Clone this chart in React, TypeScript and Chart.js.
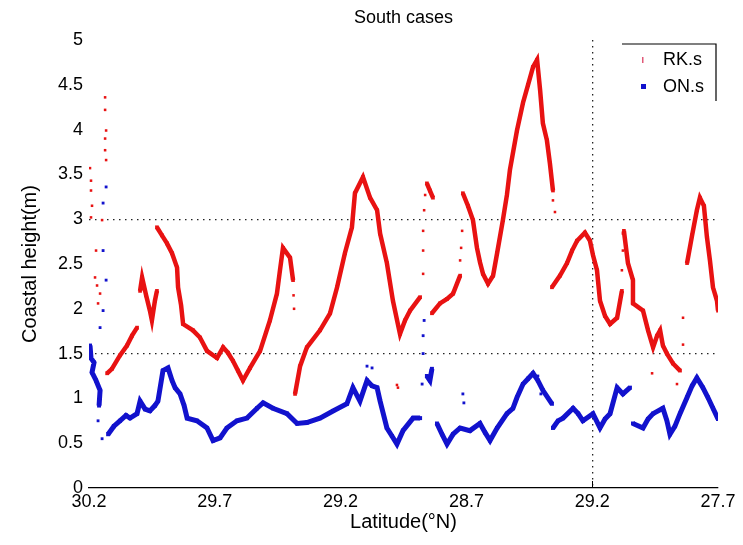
import React, { useEffect, useRef } from 'react';
import { Chart, registerables } from 'chart.js';
Chart.register(...registerables);

const titleText = 'South cases';
const xTitle = 'Latitude(°N)';
const yTitle = 'Coastal height(m)';
const seriesNames = ['RK.s', 'ON.s'];

const xTickValues = [30.2, 29.7, 29.2, 28.7, 28.2, 27.7];
const xTickLabels = ['30.2', '29.7', '29.2', '28.7', '29.2', '27.7'];
const yTickValues = [0, 0.5, 1, 1.5, 2, 2.5, 3, 3.5, 4, 4.5, 5];
const yTickLabels = ['0', '0.5', '1', '1.5', '2', '2.5', '3', '3.5', '4', '4.5', '5'];
const yGridValues = [3, 1.5];
const xGridValues = [28.2];

// RK.s dense tracks (null = break)
const rkDenseLat = [
  30.128, 30.109, 30.077, 30.049, 30.029, 30.009, null,
  29.997, 29.989, 29.973, 29.958, 29.950, 29.938, 29.930, null,
  29.930, 29.910, 29.890, 29.870, 29.850, 29.846, 29.834, 29.826, 29.787, 29.759, 29.731, 29.691, 29.667, 29.648, 29.628, 29.608, 29.588, 29.560, 29.520, 29.481, 29.453, 29.441, 29.429, 29.401, 29.389, null,
  29.381, 29.361, 29.334, 29.282, 29.242, 29.214, 29.183, 29.155, 29.143, 29.111, 29.083, 29.055, 29.043, 29.016, 28.992, 28.964, 28.944, 28.924, 28.884, null,
  28.857, 28.845, 28.833, null,
  28.837, 28.805, 28.777, 28.753, 28.725, null,
  28.714, 28.694, 28.674, 28.658, 28.646, 28.634, 28.614, 28.594, 28.578, 28.555, 28.539, 28.527, 28.499, 28.475, 28.455, 28.435, 28.419, 28.407, 28.396, 28.380, 28.368, 28.356, null,
  28.360, 28.328, 28.300, 28.280, 28.260, 28.229, 28.209, 28.197, 28.181, 28.169, 28.149, 28.129, 28.101, 28.082, null,
  28.074, 28.058, 28.038, 28.038, 27.998, 27.978, 27.958, 27.942, 27.930, 27.919, 27.903, 27.879, 27.851, null,
  27.823, 27.803, 27.784, 27.772, 27.756, 27.744, 27.732, 27.720, 27.704, 27.700,
];
const rkDenseVal = [
  1.28, 1.33, 1.48, 1.59, 1.70, 1.79, null,
  2.20, 2.35, 2.15, 1.98, 1.87, 2.09, 2.20, null,
  2.91, 2.82, 2.73, 2.62, 2.46, 2.24, 2.04, 1.83, 1.76, 1.68, 1.53, 1.45, 1.57, 1.51, 1.42, 1.31, 1.20, 1.34, 1.53, 1.87, 2.17, 2.43, 2.68, 2.57, 2.32, null,
  1.05, 1.36, 1.57, 1.76, 1.95, 2.24, 2.62, 2.91, 3.29, 3.47, 3.24, 3.10, 2.84, 2.51, 2.09, 1.72, 1.87, 1.98, 2.13, null,
  3.40, 3.32, 3.24, null,
  1.95, 2.06, 2.11, 2.17, 2.37, null,
  3.29, 3.15, 2.99, 2.68, 2.52, 2.39, 2.28, 2.37, 2.62, 2.99, 3.27, 3.55, 3.99, 4.30, 4.50, 4.70, 4.78, 4.44, 4.07, 3.88, 3.62, 3.32, null,
  2.24, 2.37, 2.51, 2.65, 2.76, 2.85, 2.76, 2.60, 2.43, 2.09, 1.92, 1.83, 1.90, 2.20, null,
  2.87, 2.51, 2.32, 2.06, 1.98, 1.76, 1.57, 1.70, 1.76, 1.59, 1.50, 1.39, 1.31, null,
  2.51, 2.82, 3.10, 3.24, 3.15, 2.80, 2.54, 2.24, 2.09, 1.98,
];
// RK.s scattered points
const rkSparseLat = [30.136, 30.136, 30.132, 30.136, 30.136, 30.132, 30.196, 30.192, 30.192, 30.188, 30.192, 30.148, 30.172, 30.176, 30.168, 30.156, 30.164,
  29.387, 29.385, 28.872, 28.872, 28.872, 28.868, 28.864, 28.972, 28.976, 28.725, 28.721, 28.717, 28.356, 28.348, 28.078, 28.078, 28.082, 27.962, 27.863, 27.839, 27.839];
const rkSparseVal = [4.36, 4.22, 3.99, 3.90, 3.77, 3.66, 3.57, 3.43, 3.32, 3.15, 3.02, 2.99, 2.65, 2.35, 2.26, 2.17, 2.06,
  2.15, 2.00, 2.39, 2.65, 2.87, 3.10, 3.27, 1.12, 1.15, 2.54, 2.68, 2.87, 3.21, 3.08, 2.84, 2.65, 2.43, 1.28, 1.16, 1.90, 1.60];

// ON.s dense tracks
const onDenseLat = [
  30.196, 30.192, 30.180, 30.188, 30.172, 30.156, 30.160, null,
  30.124, 30.101, 30.077, 30.053, 30.037, 30.009, 29.997, 29.977, 29.958, 29.938, 29.926, 29.906, 29.886, 29.870, 29.858, 29.838, 29.822, 29.810, 29.771, 29.731, 29.707, 29.679, 29.652, 29.612, 29.572, 29.532, 29.508, 29.469, 29.413, 29.373, 29.334, 29.282, 29.230, 29.175, 29.151, 29.123, 29.095, 29.075, 29.055, 29.043, 29.016, 28.996, 28.976, 28.952, 28.912, 28.884, null,
  28.857, 28.845, 28.837, null,
  28.817, 28.797, 28.777, 28.753, 28.725, 28.686, 28.646, 28.626, 28.606, 28.578, 28.539, 28.515, 28.499, 28.475, 28.455, 28.435, 28.416, 28.396, 28.360, null,
  28.356, 28.336, 28.316, 28.276, 28.256, 28.237, 28.197, 28.169, 28.149, 28.129, 28.101, 28.078, 28.050, null,
  28.038, 27.998, 27.978, 27.958, 27.919, 27.903, 27.891, 27.871, 27.851, 27.823, 27.803, 27.784, 27.760, 27.740, 27.720, 27.700,
];
const onDenseVal = [
  1.59, 1.45, 1.40, 1.29, 1.20, 1.09, 0.92, null,
  0.60, 0.69, 0.75, 0.81, 0.78, 0.83, 0.97, 0.88, 0.86, 0.92, 0.97, 1.31, 1.34, 1.20, 1.12, 1.05, 0.92, 0.78, 0.75, 0.67, 0.53, 0.56, 0.67, 0.75, 0.78, 0.89, 0.95, 0.89, 0.83, 0.72, 0.73, 0.78, 0.86, 0.94, 1.12, 0.97, 1.20, 1.14, 1.12, 0.97, 0.67, 0.58, 0.49, 0.64, 0.78, 0.78, null,
  1.25, 1.20, 1.33, null,
  0.72, 0.60, 0.49, 0.60, 0.67, 0.64, 0.72, 0.62, 0.53, 0.67, 0.83, 0.89, 1.01, 1.16, 1.22, 1.28, 1.20, 1.09, 0.94, null,
  0.67, 0.75, 0.78, 0.89, 0.83, 0.75, 0.83, 0.67, 0.77, 0.83, 1.12, 1.05, 1.12, null,
  0.72, 0.67, 0.77, 0.83, 0.89, 0.75, 0.60, 0.69, 0.83, 1.01, 1.14, 1.23, 1.12, 1.01, 0.89, 0.77,
];
// ON.s scattered points
const onSparseLat = [30.132, 30.144, 30.144, 30.132, 30.144, 30.156, 30.164, 30.148,
  28.868, 28.872, 28.872, 28.876, 28.714, 28.710, 29.095, 29.075, 28.416, 28.404];
const onSparseVal = [3.36, 3.18, 2.65, 2.32, 1.98, 1.79, 0.75, 0.55,
  1.87, 1.70, 1.50, 1.16, 1.05, 0.95, 1.36, 1.34, 1.25, 1.05];

const RED = 'rgb(232,18,18)';
const BLUE = 'rgb(18,18,205)';
const FONT = '"Liberation Sans", Arial, sans-serif';

function toPoints(lat: (number | null)[], val: (number | null)[]) {
  const pts: { x: number; y: number | null }[] = [];
  let last = lat.find((v) => v !== null) as number;
  for (let i = 0; i < lat.length; i++) {
    if (lat[i] === null || val[i] === null) {
      pts.push({ x: last, y: null });
    } else {
      last = lat[i] as number;
      pts.push({ x: lat[i] as number, y: val[i] as number });
    }
  }
  return pts;
}

const near = (a: number, list: number[]) => list.some((v) => Math.abs(v - a) < 1e-6);

const decorPlugin = {
  id: 'decor',
  afterDraw(chart: any) {
    const ctx = chart.ctx as CanvasRenderingContext2D;
    const xs = chart.scales.x;
    const ys = chart.scales.y;
    ctx.save();
    ctx.fillStyle = '#000';
    ctx.font = `18px ${FONT}`;
    ctx.textAlign = 'center';
    ctx.textBaseline = 'middle';
    ctx.fillText(titleText, (xs.left + xs.right) / 2, 18);
    ctx.font = `20px ${FONT}`;
    ctx.fillText(xTitle, (xs.left + xs.right) / 2, 522);
    ctx.save();
    ctx.translate(30, (ys.top + ys.bottom) / 2);
    ctx.rotate(-Math.PI / 2);
    ctx.fillText(yTitle, 0, 0);
    ctx.restore();
    ctx.strokeStyle = '#000';
    ctx.lineWidth = 1;
    const tx = Math.round(xs.getPixelForValue(28.2)) + 0.5;
    ctx.beginPath();
    ctx.moveTo(tx, ys.bottom);
    ctx.lineTo(tx, ys.bottom - 7);
    ctx.stroke();
    const lx0 = 622, lx1 = 716, ly0 = 44, ly1 = 101;
    ctx.lineWidth = 1.2;
    ctx.beginPath();
    ctx.moveTo(lx0, ly0);
    ctx.lineTo(lx1, ly0);
    ctx.lineTo(lx1, ly1);
    ctx.stroke();
    ctx.fillStyle = 'rgb(225,90,120)';
    ctx.fillRect(642, 57, 1.5, 6);
    ctx.fillStyle = BLUE;
    ctx.fillRect(641, 84, 5, 5);
    ctx.fillStyle = '#000';
    ctx.font = `18px ${FONT}`;
    ctx.textAlign = 'left';
    ctx.fillText(seriesNames[0], 663, 60);
    ctx.fillText(seriesNames[1], 663, 87);
    ctx.restore();
  },
};

export default function App() {
  const ref = useRef<HTMLCanvasElement>(null);
  useEffect(() => {
    if (!ref.current) return;
    const chart = new Chart(ref.current, {
      type: 'scatter',
      data: {
        datasets: [
          {
            label: seriesNames[0],
            data: toPoints(rkDenseLat, rkDenseVal),
            showLine: true,
            borderColor: RED,
            backgroundColor: RED,
            borderWidth: 4.5,
            pointStyle: 'rect',
            pointRadius: 2.6,
            pointBorderWidth: 0,
            spanGaps: false,
          },
          {
            label: seriesNames[0] + ' pts',
            data: toPoints(rkSparseLat, rkSparseVal),
            showLine: false,
            backgroundColor: RED,
            borderColor: RED,
            pointStyle: 'rect',
            pointRadius: 1.8,
            borderWidth: 0,
          },
          {
            label: seriesNames[1],
            data: toPoints(onDenseLat, onDenseVal),
            showLine: true,
            borderColor: BLUE,
            backgroundColor: BLUE,
            borderWidth: 5,
            pointStyle: 'rect',
            pointRadius: 2.8,
            pointBorderWidth: 0,
            spanGaps: false,
          },
          {
            label: seriesNames[1] + ' pts',
            data: toPoints(onSparseLat, onSparseVal),
            showLine: false,
            backgroundColor: BLUE,
            borderColor: BLUE,
            pointStyle: 'rect',
            pointRadius: 2,
            borderWidth: 0,
          },
        ],
      },
      options: {
        responsive: false,
        animation: false,
        layout: { padding: { left: 0, top: 40, right: 25, bottom: 0 } },
        plugins: { legend: { display: false }, tooltip: { enabled: false }, title: { display: false } },
        scales: {
          x: {
            type: 'linear',
            reverse: true,
            min: 27.7,
            max: 30.2,
            afterBuildTicks: (s: any) => {
              s.ticks = xTickValues.map((v) => ({ value: v }));
            },
            afterFit: (s: any) => {
              s.height = 57;
            },
            ticks: {
              autoSkip: false,
              maxRotation: 0,
              padding: 3,
              color: '#000',
              font: { family: FONT, size: 18 },
              callback: (v: any) => {
                const i = xTickValues.findIndex((t) => Math.abs(t - Number(v)) < 1e-6);
                return i >= 0 ? xTickLabels[i] : '';
              },
            },
            grid: {
              drawTicks: false,
              lineWidth: 1.3,
              color: (c: any) => (c.tick && near(c.tick.value, xGridValues) ? '#222' : 'rgba(0,0,0,0)'),
            },
            border: { display: true, color: '#000', width: 1.3, dash: [1.5, 4.5] },
          },
          y: {
            type: 'linear',
            min: 0,
            max: 5,
            afterBuildTicks: (s: any) => {
              s.ticks = yTickValues.map((v) => ({ value: v }));
            },
            afterFit: (s: any) => {
              s.width = 89;
            },
            ticks: {
              autoSkip: false,
              padding: 6,
              color: '#000',
              font: { family: FONT, size: 18 },
              callback: (v: any) => {
                const i = yTickValues.findIndex((t) => Math.abs(t - Number(v)) < 1e-6);
                return i >= 0 ? yTickLabels[i] : '';
              },
            },
            grid: {
              drawTicks: false,
              lineWidth: 1.3,
              color: (c: any) => (c.tick && near(c.tick.value, yGridValues) ? '#222' : 'rgba(0,0,0,0)'),
            },
            border: { display: false, dash: [1.5, 4.5] },
          },
        },
      },
      plugins: [decorPlugin],
    });
    return () => chart.destroy();
  }, []);
  return (
    <div style={{ position: 'absolute', left: 0, top: 0, width: 743, height: 545, background: '#fff' }}>
      <canvas ref={ref} width={743} height={545} style={{ display: 'block' }} />
    </div>
  );
}
